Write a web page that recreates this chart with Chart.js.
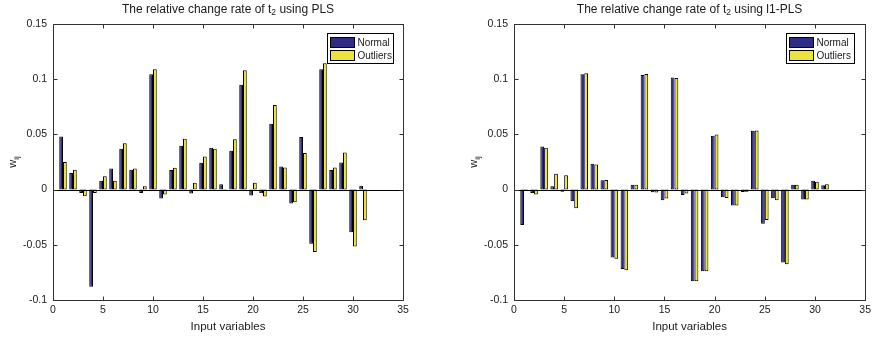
<!DOCTYPE html>
<html>
<head>
<meta charset="utf-8">
<script src="https://cdn.jsdelivr.net/npm/chart.js@4.4.0/dist/chart.umd.min.js"></script>
<style>
  body { margin: 0; background: #fff; }
  #wrap { position: relative; width: 875px; height: 338px; }
  canvas { position: absolute; top: 0; }
</style>
</head>
<body>
<div id="wrap">
  <canvas id="plsChart" width="437" height="338" style="left:0;width:437px;height:338px"></canvas>
  <canvas id="l1Chart" width="438" height="338" style="left:437px;width:438px;height:338px"></canvas>
</div>
<script>
// input variables 1..31
const variables = [1, 2, 3, 4, 5, 6, 7, 8, 9, 10, 11, 12, 13, 14, 15, 16, 17, 18, 19, 20, 21, 22, 23, 24, 25, 26, 27, 28, 29, 30, 31];

// relative change rate of t2, PLS
const plsNormal = [0.048, 0.015, -0.003, -0.088, 0.008, 0.019, 0.037, 0.018, -0.003, 0.1045, -0.008, 0.0177, 0.0398, -0.0036, 0.0243, 0.038,
  0.0048, 0.0353, 0.095, -0.0054, -0.0033, 0.0596, 0.021, -0.0126, 0.0476, -0.049, 0.109, 0.0177, 0.0245, -0.0386, 0.0036];
const plsOutliers = [0.025, 0.018, -0.006, -0.003, 0.012, 0.008, 0.042, 0.019, 0.003, 0.109, -0.0045, 0.0198, 0.046, 0.0063, 0.030, 0.037,
  0.0006, 0.0455, 0.108, 0.0063, -0.0063, 0.0766, 0.020, -0.0114, 0.0332, -0.0566, 0.1144, 0.020, 0.0335, -0.0515, -0.0278];

// relative change rate of t2, l1-PLS
const l1Normal = [-0.032, -0.003, 0.039, 0.003, -0.002, -0.0105, 0.1045, 0.0234, 0.0084, -0.0614, -0.0719, 0.0045, 0.1039, -0.0024, -0.0096, 0.1015,
  -0.0048, -0.083, -0.074, 0.0488, -0.0069, -0.0144, -0.0021, 0.0533, -0.031, -0.0078, -0.066, 0.0045, -0.009, 0.0081, 0.0039];
const l1Outliers = [-0.0006, -0.0045, 0.038, 0.0144, 0.0129, -0.017, 0.1054, 0.0228, 0.0087, -0.0626, -0.073, 0.0045, 0.1048, -0.0027, -0.008, 0.101,
  -0.0036, -0.083, -0.074, 0.050, -0.0075, -0.0144, -0.002, 0.0536, -0.0275, -0.0096, -0.0677, 0.0045, -0.009, 0.0072, 0.0048];

const seriesNames = ['Normal', 'Outliers'];
const xTicks = [0, 5, 10, 15, 20, 25, 30, 35];
const yTicks = [-0.1, -0.05, 0, 0.05, 0.1, 0.15];

const FONT = '"Liberation Sans", Arial, sans-serif';
const INK = '#1a1a1a';
const BLUE = '#302c86';
const YELLOW = '#ebe33b';

// matlab-ish axes: box, inward ticks, zero baseline, legend, title with subscript
const matlabAxes = {
  id: 'matlabAxes',
  afterDatasetsDraw(chart) {
    const ctx = chart.ctx;
    const a = chart.chartArea;
    const ys = chart.scales.y;
    ctx.save();
    // bar baseline
    ctx.strokeStyle = '#000';
    ctx.lineWidth = 1;
    const y0 = Math.round(ys.getPixelForValue(0)) + 0.5;
    ctx.beginPath();
    ctx.moveTo(a.left, y0);
    ctx.lineTo(a.right, y0);
    ctx.stroke();
    ctx.restore();
  },
  afterDraw(chart, args, opts) {
    const ctx = chart.ctx;
    const a = chart.chartArea;
    const xs = chart.scales.x, ys = chart.scales.y;
    const L = Math.round(a.left) + 0.5, R = Math.round(a.right) + 0.5;
    const T = Math.round(a.top) + 0.5, B = Math.round(a.bottom) + 0.5;
    ctx.save();
    ctx.strokeStyle = '#333';
    ctx.lineWidth = 1;
    ctx.strokeRect(L, T, R - L, B - T);
    const tl = 4;
    ctx.beginPath();
    xTicks.forEach(v => {
      const px = Math.round(xs.getPixelForValue(v)) + 0.5;
      ctx.moveTo(px, B); ctx.lineTo(px, B - tl);
      ctx.moveTo(px, T); ctx.lineTo(px, T + tl);
    });
    yTicks.forEach(v => {
      const py = Math.round(ys.getPixelForValue(v)) + 0.5;
      ctx.moveTo(L, py); ctx.lineTo(L + tl, py);
      ctx.moveTo(R, py); ctx.lineTo(R - tl, py);
    });
    ctx.stroke();

    // title: "The relative change rate of t" + sub "2" + rest
    ctx.fillStyle = INK;
    ctx.textBaseline = 'middle';
    ctx.textAlign = 'left';
    const big = '12px ' + FONT, small = '8.5px ' + FONT;
    const p1 = 'The relative change rate of t', p2 = '2', p3 = ' using ' + opts.method;
    ctx.font = big; const w1 = ctx.measureText(p1).width, w3 = ctx.measureText(p3).width;
    ctx.font = small; const w2 = ctx.measureText(p2).width;
    let tx = (a.left + a.right) / 2 - (w1 + w2 + w3) / 2;
    const ty = 10;
    ctx.font = big; ctx.fillText(p1, tx, ty); tx += w1;
    ctx.font = small; ctx.fillText(p2, tx, ty + 3); tx += w2;
    ctx.font = big; ctx.fillText(p3, tx, ty);

    // y label w_ij, rotated
    ctx.save();
    ctx.translate(a.left - 40, (a.top + a.bottom) / 2);
    ctx.rotate(-Math.PI / 2);
    const lab = '11px ' + FONT, sub = '8px ' + FONT;
    ctx.font = lab;
    const ww = ctx.measureText('w').width;
    ctx.font = sub;
    const wij = ctx.measureText('ij').width;
    const lx = -(ww + wij) / 2;
    ctx.font = lab; ctx.fillText('w', lx, 0);
    ctx.font = sub; ctx.fillText('ij', lx + ww, 4);
    ctx.restore();

    // legend box
    const bw = opts.legendWidth, bh = 30;
    const bx = Math.round(a.right - opts.legendRight - bw) + 0.5, by = Math.round(a.top + 9) + 0.5;
    ctx.fillStyle = '#fff';
    ctx.fillRect(bx, by, bw, bh);
    ctx.strokeStyle = '#000';
    ctx.strokeRect(bx, by, bw, bh);
    ctx.font = '10px ' + FONT;
    chart.data.datasets.forEach((ds, i) => {
      const sy = by + 4 + i * 13;
      ctx.fillStyle = ds.backgroundColor;
      ctx.fillRect(bx + 3, sy, 24, 10);
      ctx.strokeRect(bx + 3, sy, 24, 10);
      ctx.fillStyle = INK;
      ctx.fillText(ds.label, bx + 30, sy + 5.5);
    });
    ctx.restore();
  }
};

function makeChart(id, method, normal, outliers, axisWidth, rightPad, legendWidth, legendRight) {
  const ctx = document.getElementById(id).getContext('2d');
  const toPoints = vals => variables.map((v, i) => ({ x: v, y: vals[i] }));
  return new Chart(ctx, {
    type: 'bar',
    data: {
      datasets: [
        { label: seriesNames[0], data: toPoints(normal), backgroundColor: BLUE },
        { label: seriesNames[1], data: toPoints(outliers), backgroundColor: YELLOW }
      ]
    },
    options: {
      responsive: false,
      animation: false,
      layout: { padding: { top: 24, right: rightPad, left: 0, bottom: 0 } },
      datasets: {
        bar: {
          borderColor: '#000',
          borderWidth: 1,
          borderSkipped: false,
          barPercentage: 1.0,
          categoryPercentage: 0.75
        }
      },
      plugins: {
        legend: { display: false },
        tooltip: { enabled: false },
        matlabAxes: { method: method, legendWidth: legendWidth, legendRight: legendRight }
      },
      scales: {
        x: {
          type: 'linear',
          min: 0, max: 35,
          offset: false,
          grid: { display: false, drawTicks: false },
          border: { display: false },
          afterBuildTicks: s => { s.ticks = xTicks.map(v => ({ value: v })); },
          afterFit: s => { s.height = 38; },
          ticks: { color: INK, font: { family: FONT, size: 10.5 }, padding: 4, maxRotation: 0, autoSkip: false },
          title: { display: true, text: 'Input variables', color: INK, font: { family: FONT, size: 11.5 }, padding: { top: 0, bottom: 4 } }
        },
        y: {
          min: -0.1, max: 0.15,
          grid: { display: false, drawTicks: false },
          border: { display: false },
          afterBuildTicks: s => { s.ticks = yTicks.map(v => ({ value: v })); },
          afterFit: s => { s.width = axisWidth; },
          ticks: { color: INK, font: { family: FONT, size: 10.5 }, padding: 6, callback: v => String(v) }
        }
      }
    },
    plugins: [matlabAxes]
  });
}

makeChart('plsChart', 'PLS', plsNormal, plsOutliers, 53, 34, 66, 10);
makeChart('l1Chart', 'l1-PLS', l1Normal, l1Outliers, 77, 8, 68, 11);
</script>
</body>
</html>
